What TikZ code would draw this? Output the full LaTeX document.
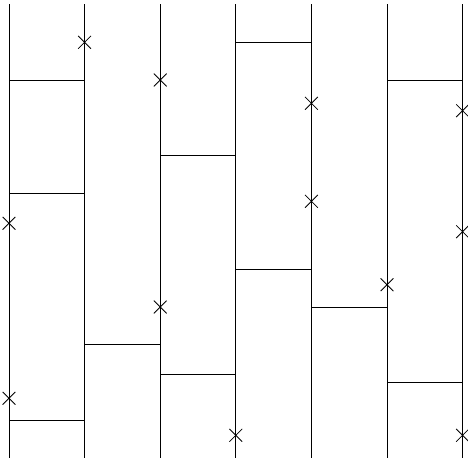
\documentclass[tikz,border=0pt]{standalone}
\usepackage{tikz}
\usetikzlibrary{shapes.misc}

\begin{document}
\begin{tikzpicture}[x=1pt,y=-1pt,
      track/.style={line width=0.8pt},
      rung/.style={line width=0.8pt},
      hit/.style={cross out,draw,line width=0.8pt,minimum size=12pt,inner sep=0pt}
    ]
    \useasboundingbox (0,0) rectangle (468,458);

    % vertical tracks
    \foreach \i in {0,...,6}
      \draw[track] (9+75.6*\i,4) coordinate (top\i) -- (9+75.6*\i,458) coordinate (bot\i);

    % horizontal rungs (column/height)
    \foreach \c/\y in {0/80,0/193.3,0/420.3,1/344.7,2/155.7,2/374.7,3/42.3,3/269,4/307,5/80,5/382.3}
      \draw[rung] (9+75.6*\c,\y) -- (84.6+75.6*\c,\y);

    % crosses on the tracks
    \foreach \c/\y [count=\k] in {1/42.3,2/80,0/223.3,0/398.3,2/307,3/435.3,4/103.3,4/201.3,5/284.7,6/110.7,6/231.7,6/435.3}
      \node[hit] (x\k) at (9+75.6*\c,\y) {};
  \end{tikzpicture}
\end{document}
